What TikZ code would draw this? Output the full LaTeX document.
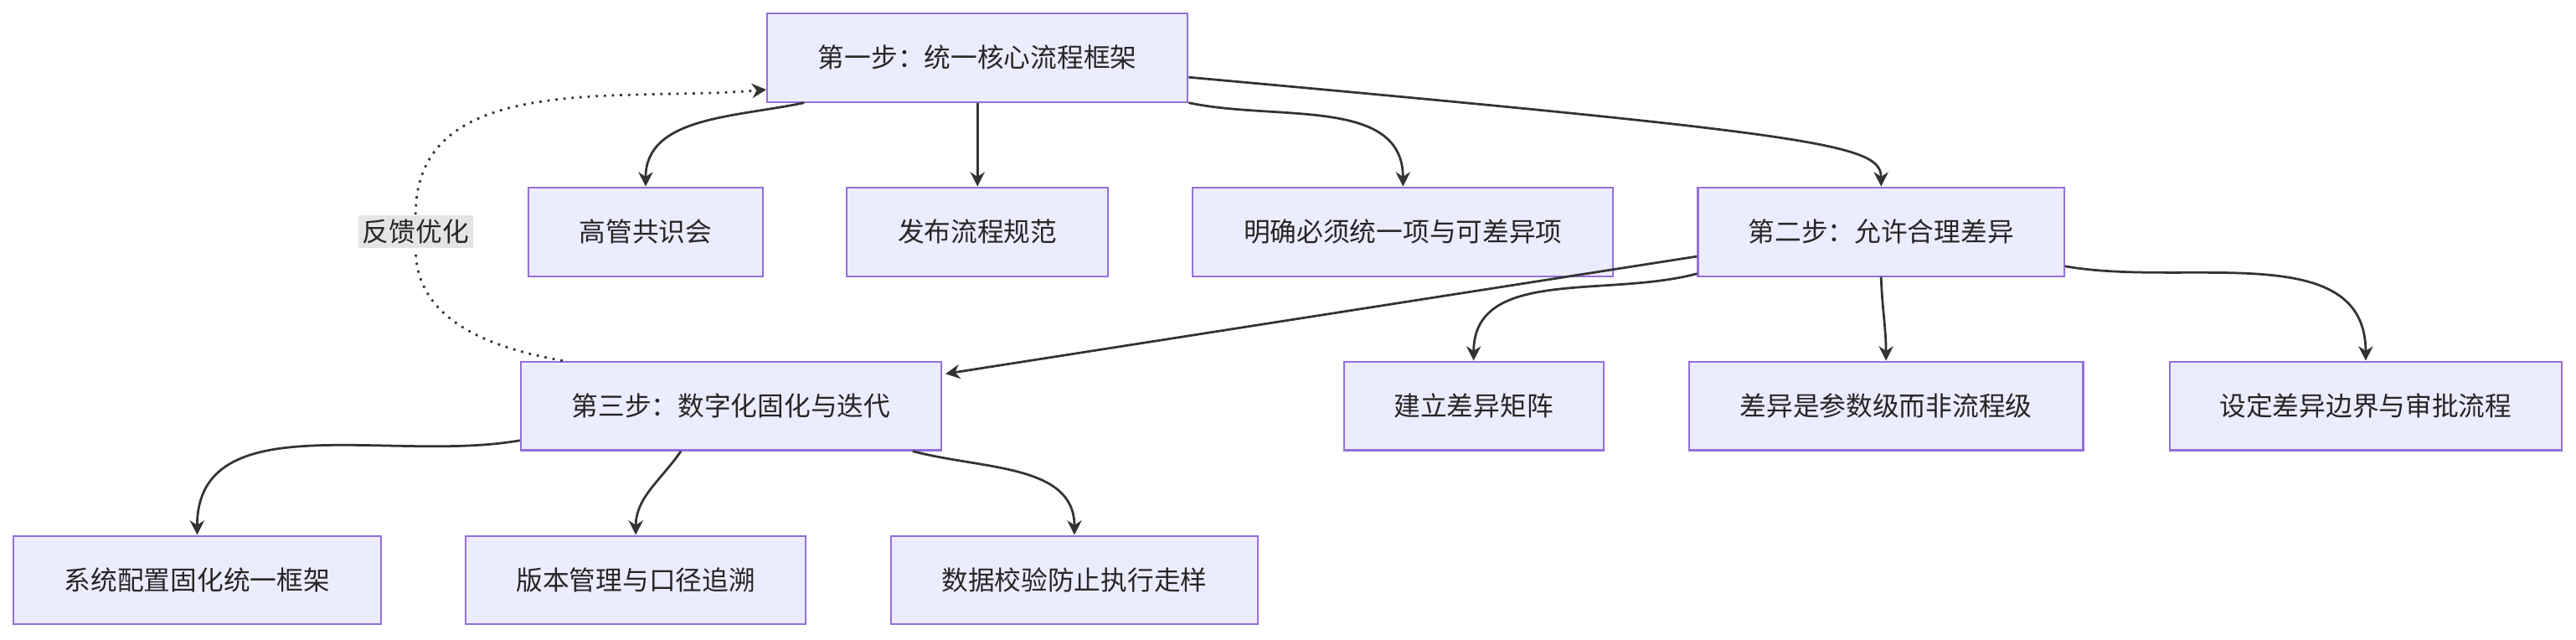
\documentclass[tikz,border=0pt]{standalone}
\usepackage{fontspec}
\setmainfont{Noto Sans CJK SC}
\usetikzlibrary{calc,arrows.meta}
\definecolor{boxfill}{HTML}{ECECFF}
\definecolor{boxline}{HTML}{9370DB}
\definecolor{edge}{HTML}{333333}
\begin{document}
\begin{tikzpicture}[x=0.02cm,y=-0.02cm,
    box/.style={draw=boxline, fill=boxfill, line width=0.6pt, minimum height=1.08cm,
      inner xsep=0pt, font=\fontsize{9.2}{11}\selectfont, text=black!85},
    link/.style={draw=edge, line width=0.8pt, -{Stealth[length=5pt,width=5pt]}}]
    \useasboundingbox (0,0) rectangle (1568,389);

    % Stufe eins
    \node[box, minimum width=5.12cm] (s1) at (595,35) {第一步：统一核心流程框架};
    \node[box, minimum width=2.86cm] (a1) at (393,141) {高管共识会};
    \node[box, minimum width=3.18cm] (a2) at (595,141) {发布流程规范};
    \node[box, minimum width=5.12cm] (a3) at (854,141) {明确必须统一项与可差异项};
    \node[box, minimum width=4.46cm] (s2) at (1145,141) {第二步：允许合理差异};

    % Stufe zwei
    \node[box, minimum width=5.12cm] (s3) at (445,247) {第三步：数字化固化与迭代};
    \node[box, minimum width=3.16cm] (b1) at (897,247) {建立差异矩阵};
    \node[box, minimum width=4.80cm] (b2) at (1148,247) {差异是参数级而非流程级};
    \node[box, minimum width=4.78cm] (b3) at (1440,247) {设定差异边界与审批流程};

    % Stufe drei
    \node[box, minimum width=4.48cm] (c1) at (120,353) {系统配置固化统一框架};
    \node[box, minimum width=4.14cm] (c2) at (387,353) {版本管理与口径追溯};
    \node[box, minimum width=4.46cm] (c3) at (654,353) {数据校验防止执行走样};

    % Verbindungen
    \draw[link] ($(s1.south west)+(23,0)$) to[out=192,in=90] (a1.north);
    \draw[link] (s1.south) -- (a2.north);
    \draw[link] (s1.south east) to[out=-12,in=90] (a3.north);
    \draw[link] ($(s1.east)+(0,12)$) .. controls (1110,82) and (1145,88) .. (s2.north);
    \draw[link] ($(s2.west)+(0,15)$) -- ($(s3.north east)+(2,8)$);
    \draw[link] ($(s2.south west)+(0,-2)$) to[out=195,in=90] (b1.north);
    \draw[link] (s2.south) to[out=-88,in=90] (b2.north);
    \draw[link] ($(s2.east)+(0,21)$) to[out=-10,in=90] (b3.north);
    \draw[link] ($(s3.west)+(0,21)$) to[out=190,in=90] (c1.north);
    \draw[link] ($(s3.south west)+(98,0)$) to[out=-125,in=90] (c2.north);
    \draw[link] ($(s3.south east)+(-18,0)$) to[out=-15,in=90] (c3.north);

    % Rueckkopplung
    \node[fill=black!10, inner sep=1.5pt, font=\fontsize{9.2}{11}\selectfont, text=black!85] (fb) at (253,141) {反馈优化};
    \draw[dotted, draw=edge, line width=0.8pt] ($(s3.north west)+(26,0)$) to[out=170,in=-90] (fb.south);
    \draw[link, dotted] (fb.north) to[out=90,in=185] ($(s1.south west)+(0,-8)$);
\end{tikzpicture}
\end{document}
